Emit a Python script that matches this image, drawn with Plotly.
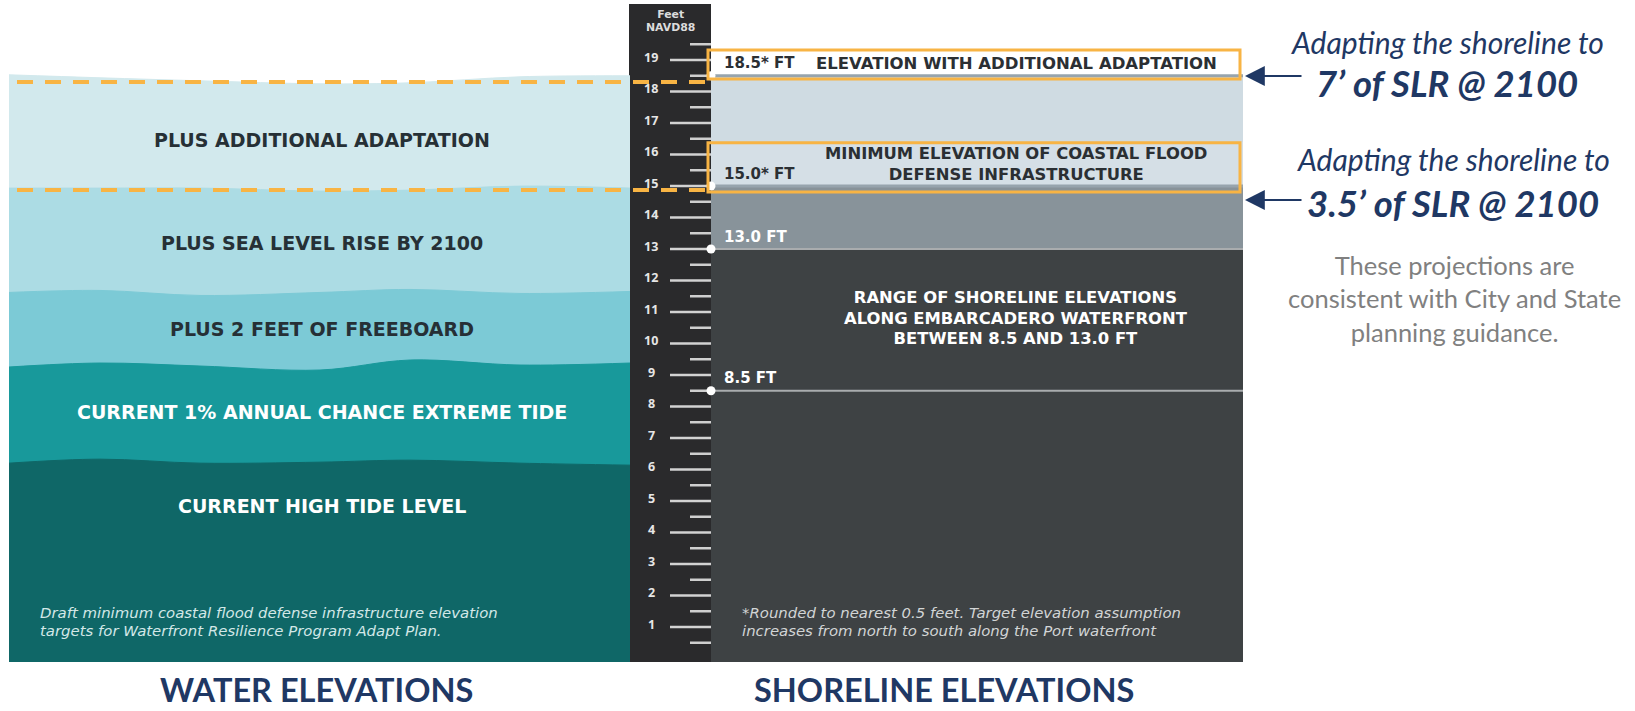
import plotly.graph_objects as go

# ---------------- data ----------------
RULER_FEET = [1, 2, 3, 4, 5, 6, 7, 8, 9, 10, 11, 12, 13, 14, 15, 16, 17, 18, 19]
RULER_HALF_FEET = [0.5, 1.5, 2.5, 3.5, 4.5, 5.5, 6.5, 7.5, 8.5, 9.5, 10.5, 11.5,
                   12.5, 13.5, 14.5, 15.5, 16.5, 17.5, 18.5, 19.5]

WATER_LABELS = ["PLUS ADDITIONAL ADAPTATION", "PLUS SEA LEVEL RISE BY 2100",
                "PLUS 2 FEET OF FREEBOARD", "CURRENT 1% ANNUAL CHANCE EXTREME TIDE",
                "CURRENT HIGH TIDE LEVEL"]
WATER_TOPS_FT = [18.4, 14.92, 11.63, 9.32, 6.23]          # top of each water band (ft NAVD88)

SHORE_LEVELS_FT = [18.5, 15.0, 13.0, 8.5]
SHORE_LEVEL_LABELS = ["18.5* FT", "15.0* FT", "13.0 FT", "8.5 FT"]
NOTE_ADAPT = ["ELEVATION WITH ADDITIONAL ADAPTATION"]
NOTE_MIN = ["MINIMUM ELEVATION OF COASTAL FLOOD", "DEFENSE INFRASTRUCTURE"]
NOTE_RANGE = ["RANGE OF SHORELINE ELEVATIONS", "ALONG EMBARCADERO WATERFRONT", "BETWEEN 8.5 AND 13.0 FT"]
FOOT_LEFT = ["Draft minimum coastal flood defense infrastructure elevation",
             "targets for Waterfront Resilience Program Adapt Plan."]
FOOT_RIGHT = ["*Rounded to nearest 0.5 feet. Target elevation assumption",
              "increases from north to south along the Port waterfront"]
RULER_TITLE = ["Feet", "NAVD88"]

ADAPT_TARGETS = ["7\u2019 of SLR @ 2100", "3.5\u2019 of SLR @ 2100"]
GUIDANCE = ["These projections are", "consistent with City and State", "planning guidance."]
PANEL_TITLES = ["WATER ELEVATIONS", "SHORELINE ELEVATIONS"]

# ---------------- layout / style ----------------
W, H = 1635, 711
PX_PER_FT = 31.5
ZERO_PX = 658.5
def ft(px):
    return (ZERO_PX - px) / PX_PER_FT

BOTTOM_FT = ft(662)
NAVY = "#1f3864"
ORANGE = "#f8b444"
SANS = "DejaVu Sans"

LEFT_X0, LEFT_X1 = 9, 630
RULER_X0, RULER_X1 = 629, 711
RIGHT_X0, RIGHT_X1 = 711, 1243

WATER_COLORS = ["#d2e9ed", "#acdce4", "#7ccad6", "#18999b", "#0f6767"]
WATER_TEXT_COLORS = ["#263036", "#263036", "#263036", "#ffffff", "#ffffff"]
WATER_TEXT_PX = [140, 243, 329, 412, 506]
WAVE_X = [9, 100, 200, 320, 410, 520, 630]
WAVE_DEV_PX = [[-4.1, -1.1, 1.9, 4.9, 3.9, -2.1, -3.1],
               [-0.4, -0.4, -0.4, 2.6, 1.6, -2.4, -0.4],
               [0.3, -1.7, 3.3, 0.3, -2.7, 1.3, -0.7],
               [2.1, -1.9, 1.1, 5.1, -4.9, 0.1, -1.9],
               [0.9, -3.1, 0.9, -0.1, -2.1, 0.9, 2.9]]

fig = go.Figure()
shapes = []
ann = []

def text(x, ypx, t, size, color, anchor="center", weight=400, style="normal", family=SANS):
    ann.append(dict(x=x, y=ft(ypx), text=t, showarrow=False, xanchor=anchor, yanchor="middle",
                    font=dict(family=family, size=size, color=color, weight=weight, style=style)))

def multi(x, ypx_center, lines, size, spacing_px, color, anchor="center", weight=400, style="normal",
          family=SANS):
    body = "<br>".join("<span style='font-size:%gpx'>%s</span>" % (size, l) for l in lines)
    ann.append(dict(x=x, y=ft(ypx_center), text=body, showarrow=False, xanchor=anchor, yanchor="middle",
                    align=anchor,
                    font=dict(family=family, size=spacing_px / 1.3, color=color, weight=weight,
                              style=style)))

# ---- water bands (left panel) ----
for top, dev, col in zip(WATER_TOPS_FT, WAVE_DEV_PX, WATER_COLORS):
    fig.add_trace(go.Scatter(x=[LEFT_X0, LEFT_X1], y=[BOTTOM_FT, BOTTOM_FT], mode="lines",
                             line=dict(width=0), hoverinfo="skip", showlegend=False))
    fig.add_trace(go.Scatter(x=WAVE_X, y=[top - d / PX_PER_FT for d in dev], mode="lines",
                             line=dict(width=1, color=col, shape="spline", smoothing=1.0),
                             fill="tonexty", fillcolor=col, hoverinfo="skip", showlegend=False))

for lab, ypx, tc in zip(WATER_LABELS, WATER_TEXT_PX, WATER_TEXT_COLORS):
    text(322, ypx, lab, 19, tc, weight=700)

multi(38, 622, FOOT_LEFT, 14.9, 18, "#d3e8e8", anchor="left", style="italic")

# ---- ruler ----
shapes.append(dict(type="rect", x0=RULER_X0, x1=RULER_X1, y0=BOTTOM_FT, y1=ft(4),
                   fillcolor="#2a2a2c", line=dict(width=0), layer="below"))
for f in RULER_FEET:
    shapes.append(dict(type="line", x0=670, x1=RULER_X1, y0=f, y1=f,
                       line=dict(color="#d2d2d2", width=2.5), layer="below"))
    ann.append(dict(x=651, y=f + 0.08, text=str(f), showarrow=False, xanchor="center", yanchor="middle",
                    font=dict(family="Open Sans", size=12.5, color="#e6e6e6", weight=700)))
for f in RULER_HALF_FEET:
    shapes.append(dict(type="line", x0=690, x1=RULER_X1, y0=f, y1=f,
                       line=dict(color="#cfcfcf", width=2.5), layer="below"))
multi(670, 20.5, RULER_TITLE, 10.9, 13.2, "#dcdcdc", weight=700)

# ---- shoreline bands (right panel) ----
band_cols = ["#cfdbe2", "#88939a", "#3e4244"]
band_edges = [SHORE_LEVELS_FT[0], SHORE_LEVELS_FT[1], SHORE_LEVELS_FT[2], BOTTOM_FT]
for i, col in enumerate(band_cols):
    shapes.append(dict(type="rect", x0=RIGHT_X0, x1=RIGHT_X1, y0=band_edges[i + 1], y1=band_edges[i],
                       fillcolor=col, line=dict(width=0), layer="below"))
shapes.append(dict(type="rect", x0=RIGHT_X0, x1=RIGHT_X1, y0=SHORE_LEVELS_FT[1], y1=SHORE_LEVELS_FT[1] + 1.4,
                   fillcolor="#d5dfe6", line=dict(width=0), layer="below"))

line_cols = ["#97a4ad", "#97a4ad", "#a9acae", "#a9acae"]
line_w = [3, 3, 2, 2]
for lv, lc, lw in zip(SHORE_LEVELS_FT, line_cols, line_w):
    shapes.append(dict(type="line", x0=RIGHT_X0, x1=RIGHT_X1, y0=lv, y1=lv,
                       line=dict(color=lc, width=lw), layer="below"))

fig.add_trace(go.Scatter(x=[RIGHT_X0] * len(SHORE_LEVELS_FT), y=SHORE_LEVELS_FT, mode="markers",
                         marker=dict(size=9, color="white"), hoverinfo="skip", showlegend=False))

lab_cols = ["#2b2f33", "#2b2f33", "#ffffff", "#ffffff"]
lab_dy_px = [12.5, 12, 12, 13]
for lv, lab, lc, dy in zip(SHORE_LEVELS_FT, SHORE_LEVEL_LABELS, lab_cols, lab_dy_px):
    ann.append(dict(x=722, y=lv + dy / PX_PER_FT, text=lab, showarrow=False, xanchor="left", yanchor="middle",
                    font=dict(family=SANS, size=15, color=lc, weight=700)))

text(1016, 63, NOTE_ADAPT[0], 16.5, "#2b2f33", weight=700)
multi(1016, 163.5, NOTE_MIN, 16.4, 21, "#2b2f33", weight=700)
multi(1016, 317.5, NOTE_RANGE, 16.4, 20.5, "#ffffff", weight=700)
multi(740, 622, FOOT_RIGHT, 14.9, 18, "#d2d5d6", anchor="left", style="italic")

# ---- orange highlight boxes & dashed adaptation lines ----
box_lo = [-0.1, -0.19]
box_hi = [0.82, 1.37]
dash_off = [-0.2, -0.13]
for lv, lo, hi, do in zip(SHORE_LEVELS_FT[:2], box_lo, box_hi, dash_off):
    shapes.append(dict(type="rect", x0=708, x1=1240, y0=lv + lo, y1=lv + hi,
                       line=dict(color=ORANGE, width=3), fillcolor="rgba(0,0,0,0)", layer="above"))
    fig.add_trace(go.Scatter(x=[17, 705], y=[lv + do, lv + do], mode="lines",
                             line=dict(color=ORANGE, width=4, dash="16px,12px"),
                             hoverinfo="skip", showlegend=False))

# ---- right-hand callouts ----
arrow_px = [76, 200]
head_px = [42, 159]
big_px = [83, 203]
centers = [1447, 1453]
for apx, hpx, bpx, cx, tgt in zip(arrow_px, head_px, big_px, centers, ADAPT_TARGETS):
    ann.append(dict(x=1245, y=ft(apx), ax=1303, ay=ft(apx), axref="x", ayref="y", text="",
                    showarrow=True, arrowhead=2, arrowsize=2.2, arrowwidth=1.8, arrowcolor=NAVY))
    text(cx, hpx, "Adapting the shoreline to", 30, NAVY, style="italic", family="Lato")
    text(cx, bpx, tgt, 36.5, NAVY, style="italic", weight=700, family="Lato")

multi(1454, 298.5, GUIDANCE, 25.5, 33.5, "#808080", family="Lato")

# ---- panel titles ----
for t, cx in zip(PANEL_TITLES, [316, 944]):
    ann.append(dict(x=cx, y=ft(711), text=t, showarrow=False, xanchor="center", yanchor="bottom",
                    font=dict(family="Lato", size=32.5, color=NAVY, weight=700)))

fig.update_layout(
    width=W, height=H, margin=dict(l=0, r=0, t=0, b=0),
    paper_bgcolor="white", plot_bgcolor="white",
    xaxis=dict(range=[0, W], visible=False, fixedrange=True),
    yaxis=dict(range=[ft(H), ft(0)], visible=False, fixedrange=True),
    shapes=shapes, annotations=ann, showlegend=False,
)
fig.write_html("out.html", config={"displayModeBar": False},
               post_script="document.body.style.margin='0';document.body.style.overflow='hidden';")
